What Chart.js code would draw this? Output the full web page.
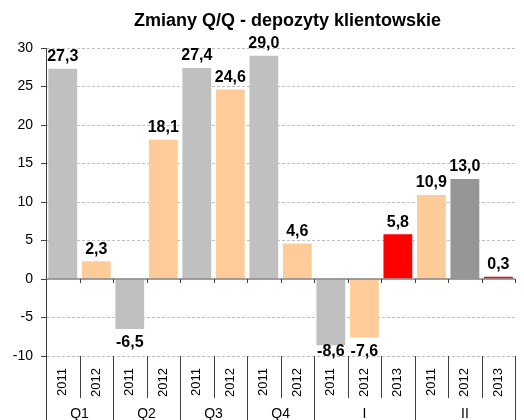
<!DOCTYPE html>
<html>
<head>
<meta charset="utf-8">
<script src="https://cdn.jsdelivr.net/npm/chart.js@4.4.1/dist/chart.umd.min.js"></script>
<style>
  html, body { margin: 0; padding: 0; overflow: hidden; background: #fff; }
  canvas { display: block; }
</style>
</head>
<body>
<canvas id="chart" width="526" height="420"></canvas>
<script>
// Dane
const title = 'Zmiany Q/Q - depozyty klientowskie';
const groups = ['Q1', 'Q1', 'Q2', 'Q2', 'Q3', 'Q3', 'Q4', 'Q4', 'I', 'I', 'I', 'II', 'II', 'II'];
const years = ['2011', '2012', '2011', '2012', '2011', '2012', '2011', '2012', '2011', '2012', '2013', '2011', '2012', '2013'];
const values = [27.3, 2.3, -6.5, 18.1, 27.4, 24.6, 29.0, 4.6, -8.6, -7.6, 5.8, 10.9, 13.0, 0.3];
const yTicks = [-10, -5, 0, 5, 10, 15, 20, 25, 30];

// Kolory słupków
const GRAY = '#c0c0c0', PEACH = '#ffcc99', RED = '#ff0000', DARK = '#969696';
const barColors = [GRAY, PEACH, GRAY, PEACH, GRAY, PEACH, GRAY, PEACH, GRAY, PEACH, RED, PEACH, DARK, RED];

const FONT = "'Liberation Sans', Arial, sans-serif";

function line(ctx, x1, y1, x2, y2) {
    ctx.beginPath();
    ctx.moveTo(x1, y1);
    ctx.lineTo(x2, y2);
    ctx.stroke();
}

const decor = {
    id: 'decor',
    afterDatasetsDraw(chart) {
        const { ctx, chartArea: a, scales: { x, y } } = chart;
        const n = years.length;
        const w = x.width / n;
        const y0 = Math.round(y.getPixelForValue(0));
        ctx.save();

        // linia zero
        ctx.strokeStyle = '#808080';
        ctx.lineWidth = 1.5;
        line(ctx, a.left, y0, a.right, y0);

        // znaczniki i separatory kategorii
        ctx.strokeStyle = '#404040';
        ctx.lineWidth = 1;
        for (let i = 0; i <= n; i++) {
            const bx = Math.round(x.getPixelForValue(i) - w / 2) + 0.5;
            line(ctx, bx, y0, bx, y0 + 4);
            const edge = i === 0 || i === n || groups[i] !== groups[i - 1];
            line(ctx, bx, a.bottom, bx, edge ? chart.height : a.bottom + 42);
        }

        // etykiety grup
        ctx.fillStyle = '#000';
        ctx.font = '14px ' + FONT;
        ctx.textAlign = 'center';
        ctx.textBaseline = 'middle';
        let start = 0;
        for (let i = 1; i <= n; i++) {
            if (i === n || groups[i] !== groups[start]) {
                const cx = (x.getPixelForValue(start) + x.getPixelForValue(i - 1)) / 2;
                ctx.fillText(groups[start], cx, a.bottom + 58);
                start = i;
            }
        }

        // wartości przy słupkach
        ctx.font = 'bold 16px ' + FONT;
        const meta = chart.getDatasetMeta(0);
        meta.data.forEach((bar, i) => {
            const v = values[i];
            const txt = v.toFixed(1).replace('.', ',');
            let ty;
            if (v >= 0) ty = bar.y - 12;
            else ty = Math.min(bar.y + 14, a.bottom - 4);
            ctx.fillText(txt, bar.x, ty);
        });

        // tytuł
        ctx.font = 'bold 18px ' + FONT;
        ctx.fillText(title, (a.left + a.right) / 2 + 7, 21);
        ctx.restore();
    }
};

new Chart(document.getElementById('chart'), {
    type: 'bar',
    data: {
        labels: years,
        datasets: [{
            data: values,
            backgroundColor: barColors,
            barPercentage: 0.86,
            categoryPercentage: 1.0
        }]
    },
    options: {
        responsive: false,
        animation: false,
        layout: { padding: { top: 48, left: 0, right: 0, bottom: 0 } },
        plugins: {
            legend: { display: false },
            tooltip: { enabled: false },
            title: { display: false }
        },
        scales: {
            x: {
                grid: { display: false, drawTicks: false },
                border: { display: false },
                ticks: {
                    minRotation: 90,
                    maxRotation: 90,
                    padding: 12,
                    color: '#000',
                    font: { family: FONT, size: 13 }
                },
                afterFit(s) { s.height = 64; }
            },
            y: {
                min: yTicks[0],
                max: yTicks[yTicks.length - 1],
                afterBuildTicks(s) { s.ticks = yTicks.map(v => ({ value: v })); },
                grid: {
                    color: ctx => ctx.tick && ctx.tick.value === 0 ? 'rgba(0,0,0,0)' : '#c0c0c0',
                    lineWidth: 1,
                    tickLength: 5,
                    tickColor: '#404040'
                },
                border: {
                    display: true,
                    color: '#404040',
                    width: 1,
                    dash: ctx => ctx.tick ? [3, 2] : []
                },
                ticks: {
                    padding: 8,
                    color: '#000',
                    font: { family: FONT, size: 14 }
                },
                afterFit(s) { s.width = 46; }
            }
        }
    },
    plugins: [decor]
});
</script>
</body>
</html>
